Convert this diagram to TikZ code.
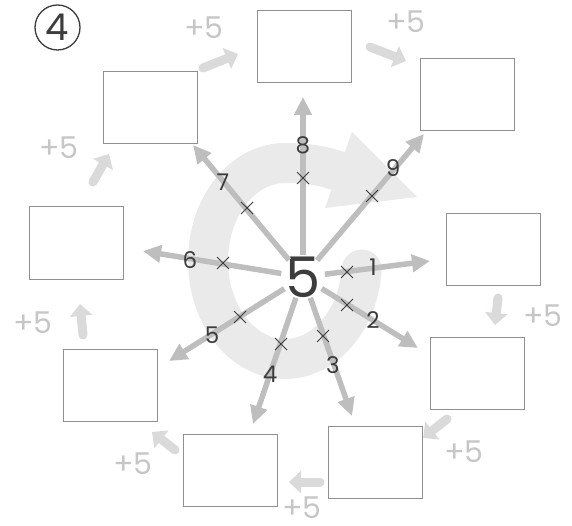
\documentclass[tikz,border=0pt]{standalone}
\usepackage{fontspec}
\setmainfont{Poppins}
\usetikzlibrary{arrows.meta,calc,shapes.misc}
\definecolor{bandc}{HTML}{EAEAEA}
\definecolor{radc}{HTML}{BEBEBE}
\definecolor{boxc}{HTML}{909090}
\definecolor{plusc}{HTML}{DADADA}
\definecolor{plustc}{HTML}{C6C6C6}
\definecolor{digc}{HTML}{3C3C3C}
\begin{document}
\begin{tikzpicture}[x=1pt,y=-1pt,
  box/.style={draw=boxc, line width=1pt, minimum width=94pt, minimum height=72pt, inner sep=0pt},
  radial/.style={draw=radc, line width=5.5pt, -{Triangle[length=18pt,width=17pt]}},
  plusarr/.style={draw=plusc, line width=9pt, line cap=round, -{Triangle[length=12pt,width=22pt]}},
  plustxt/.style={text=plustc, font=\fontsize{30}{30}\selectfont, inner sep=0pt},
  numlab/.style={text=digc, font=\fontsize{23}{23}\selectfont, inner sep=0pt},
  xmark/.style={cross out, draw=digc, line width=1pt, minimum size=11pt, inner sep=0pt},
]
\useasboundingbox (0,0) rectangle (572,526);
% circular band
\draw[bandc, line width=40pt, line cap=round] (338,171) .. controls (318,164) and (300,163) .. (285,163)
  -- plot[domain=90:355, samples=90] ({285+77*cos(\x)},{261-98*sin(\x)});
\fill[bandc] (352,132) -- (417,197) -- (325,208) -- cycle;
% circled number
\node[circle, draw=digc, line width=1.3pt, minimum size=45pt, inner sep=0pt, text=digc, font=\fontsize{37}{37}\selectfont] (num) at (57.5,27.5) {4};
% boxes
\node[box] (b8) at (304,47) {};
\node[box] (b9) at (467.5,95) {};
\node[box] (b1) at (493,249.5) {};
\node[box] (b2) at (477,373) {};
\node[box] (b3) at (375,462.5) {};
\node[box] (b4) at (230,470.5) {};
\node[box] (b5) at (110.5,385.5) {};
\node[box] (b6) at (76,243) {};
\node[box] (b7) at (150.5,107.5) {};
% center
\node[text=digc, font=\fontsize{56}{56}\selectfont, inner sep=0pt] (c) at (303,277) {5};
% tips
\coordinate (t1) at (430,261);
\coordinate (t2) at (418,348);
\coordinate (t3) at (352,416);
\coordinate (t4) at (253,424);
\coordinate (t5) at (169,361);
\coordinate (t6) at (143,251);
\coordinate (t7) at (193,145);
\coordinate (t8) at (303,97);
\coordinate (t9) at (424,134);
\foreach \i in {1,...,9} {
  \draw[radial] ($(c.center)!22pt!(t\i)$) -- (t\i);
}
% crosses
\node[xmark] (x1) at (347,272) {};
\node[xmark] (x2) at (347,305) {};
\node[xmark] (x3) at (323,336) {};
\node[xmark] (x4) at (281,344) {};
\node[xmark] (x5) at (240,317) {};
\node[xmark] (x6) at (223,263) {};
\node[xmark] (x7) at (247,208) {};
\node[xmark] (x8) at (303,178) {};
\node[xmark] (x9) at (372,196) {};
% number labels
\node[numlab] (n1) at (373,267) {1};
\node[numlab] (n2) at (373,320) {2};
\node[numlab] (n3) at (333,365) {3};
\node[numlab] (n4) at (270,374) {4};
\node[numlab] (n5) at (212,335) {5};
\node[numlab] (n6) at (190,260) {6};
\node[numlab] (n7) at (223,182) {7};
\node[numlab] (n8) at (303,145) {8};
\node[numlab] (n9) at (393,168) {9};
% plus arrows
\coordinate (a12s) at (498,298); \coordinate (a12e) at (495,325);
\coordinate (a23s) at (447,419); \coordinate (a23e) at (423,438);
\coordinate (a34s) at (320,482); \coordinate (a34e) at (289,482);
\coordinate (a45s) at (175,450); \coordinate (a45e) at (152,432);
\coordinate (a56s) at (83,335); \coordinate (a56e) at (80,304);
\coordinate (a67s) at (93,182); \coordinate (a67e) at (109,154);
\coordinate (a78s) at (203,68); \coordinate (a78e) at (238,54);
\coordinate (a89s) at (370,47); \coordinate (a89e) at (406,61);
\foreach \p in {12,23,34,45,56,67,78,89} {
  \draw[plusarr] (a\p s) -- (a\p e);
}
\node[plustxt] (p12) at (543,316) {+5};
\node[plustxt] (p23) at (464,452) {+5};
\node[plustxt] (p34) at (302,508) {+5};
\node[plustxt] (p45) at (133,464) {+5};
\node[plustxt] (p56) at (33,323) {+5};
\node[plustxt] (p67) at (59,148) {+5};
\node[plustxt] (p78) at (204,28) {+5};
\node[plustxt] (p89) at (406,22) {+5};
\end{tikzpicture}
\end{document}
